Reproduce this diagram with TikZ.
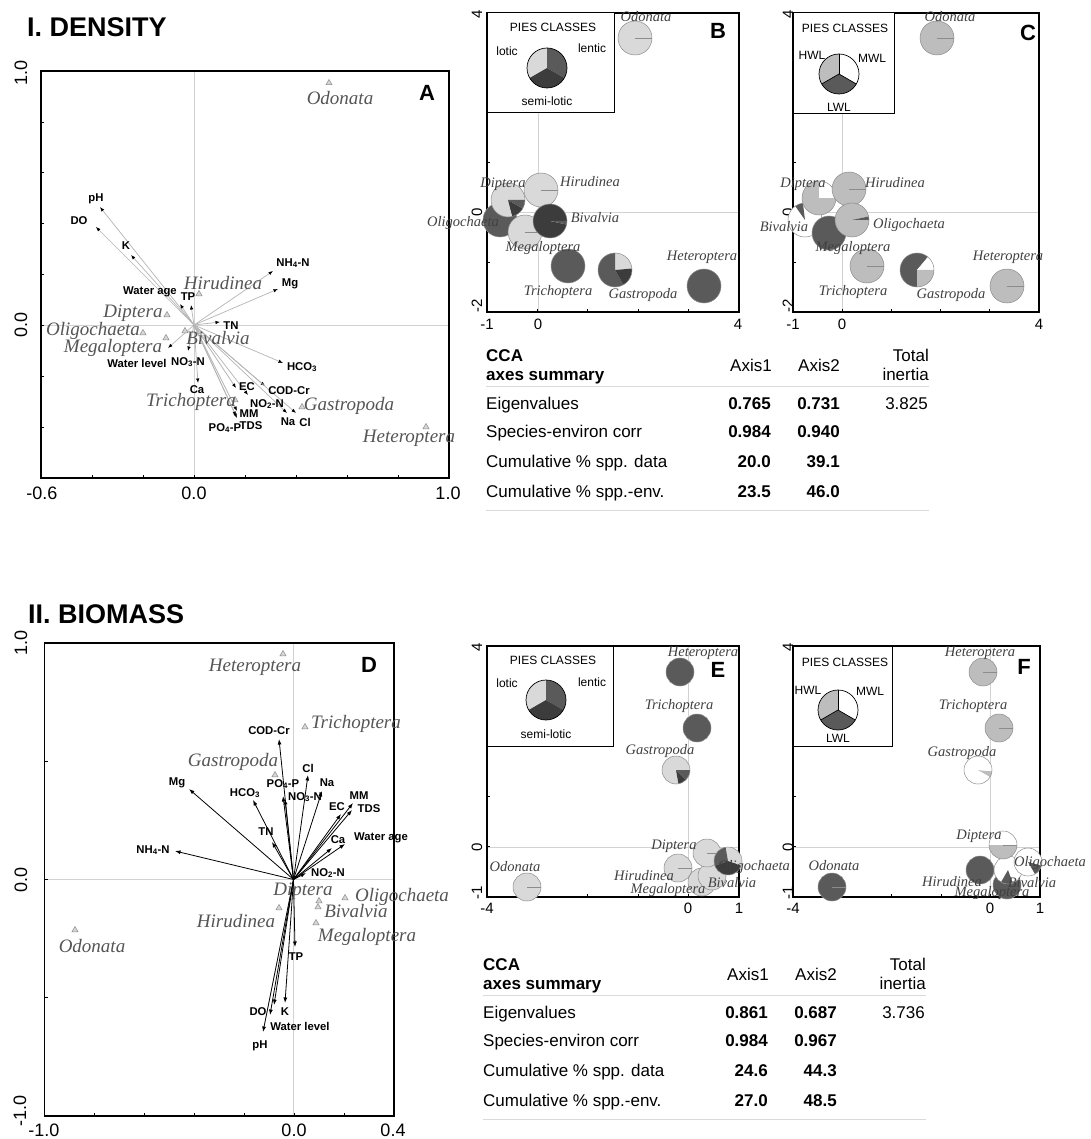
\documentclass[tikz,border=0pt]{standalone}
\usepackage{fontspec}
\setmainfont{Liberation Sans}
\newfontfamily\spfont{Liberation Serif}
\usetikzlibrary{arrows.meta,shapes.geometric}

\definecolor{lotic}{HTML}{D9D9D9}
\definecolor{lentic}{HTML}{5A5A5A}
\definecolor{semilotic}{HTML}{3C3C3C}
\definecolor{hwl}{HTML}{BDBDBD}
\definecolor{mwl}{HTML}{FFFFFF}
\definecolor{lwl}{HTML}{5A5A5A}
\definecolor{rimgray}{HTML}{8C8C8C}
\definecolor{spgray}{HTML}{555555}
\definecolor{spdark}{HTML}{404040}
\definecolor{crossgray}{HTML}{D2D2D2}
\definecolor{arrgray}{HTML}{B4B4B4}
\definecolor{trigray}{HTML}{8A8A8A}
\definecolor{rulegray}{HTML}{DADADA}

\tikzset{
  headtitle/.style={font=\bfseries\fontsize{27}{27}\selectfont, inner sep=0pt, anchor=west},
  panelletter/.style={font=\bfseries\fontsize{22}{22}\selectfont, inner sep=0pt},
  axlab/.style={font=\fontsize{18}{18}\selectfont, inner sep=0pt},
  axlabsm/.style={font=\fontsize{15}{15}\selectfont, inner sep=0pt},
  envlab/.style={font=\bfseries\fontsize{11.3}{12}\selectfont, inner sep=0pt},
  spbig/.style={font=\spfont\itshape\fontsize{19}{20}\selectfont, text=spgray, inner sep=0pt},
  spsmall/.style={font=\spfont\itshape\fontsize{14.5}{15}\selectfont, text=spdark, inner sep=0pt},
  legtext/.style={font=\fontsize{12}{12}\selectfont, inner sep=0pt},
  tabtext/.style={font=\fontsize{17}{18}\selectfont, inner sep=0pt},
  tabbold/.style={font=\bfseries\fontsize{17}{18}\selectfont, inner sep=0pt},
  tabrule/.style={draw=rulegray, line width=1pt},
  tri/.style={regular polygon, regular polygon sides=3, draw=trigray, fill=trigray!35, minimum size=7pt, inner sep=0pt, line width=0.5pt},
  panelframe/.style={draw=black, line width=1.5pt},
  smallframe/.style={draw=black, line width=1.2pt},
  legbox/.style={draw=black, fill=white, line width=1pt},
  crosshair/.style={draw=crossgray, line width=0.8pt},
  minortick/.style={draw=black, line width=0.7pt},
  pierim/.style={draw=rimgray, line width=0.5pt},
  legline/.style={draw=black, line width=0.7pt},
  arrA/.style={draw=arrgray, line width=0.7pt, -{Latex[length=4.5pt,width=3.5pt,color=black]}},
  arrD/.style={draw=black, line width=0.8pt, -{Latex[length=5.5pt,width=4pt]}}
}

% pie pieces: x, y, radius, start, end, colour
\newcommand{\pieslice}[6]{\fill[#6] (#1,#2) -- ++(#4:#3) arc[start angle=#4, end angle=#5, radius=#3] -- cycle;}
\newcommand{\pierim}[3]{\draw[pierim] (#1,#2) circle[radius=#3];}
\newcommand{\piefull}[4]{\fill[#4] (#1,#2) circle[radius=#3]; \draw[pierim] (#1,#2) circle[radius=#3]; \draw[pierim] (#1,#2) -- ++(0:#3);}

% summary table: prefix, eigen1, eigen2, corr1, corr2, data1, data2, env1, env2
\newcommand{\ccatable}[9]{%
  \node[tabbold, anchor=base west] (#1-cca) at (486,361) {CCA};
  \node[tabbold, anchor=base west] (#1-axes) at (486,380) {axes summary};
  \node[tabtext, anchor=base east] (#1-ax1) at (772,371) {Axis1};
  \node[tabtext, anchor=base east] (#1-ax2) at (840,371) {Axis2};
  \node[tabtext, anchor=base east] (#1-tot) at (929,361) {Total};
  \node[tabtext, anchor=base east] (#1-inr) at (929,380) {inertia};
  \coordinate (#1-ra) at (486,386); \coordinate (#1-rb) at (929,386);
  \draw[tabrule] (#1-ra) -- (#1-rb);
  \node[tabtext, anchor=base west] (#1-eig) at (486,409) {Eigenvalues};
  \node[tabbold, anchor=base east] (#1-eig1) at (771,409) {#2};
  \node[tabbold, anchor=base east] (#1-eig2) at (840,409) {#3};
  \node[tabtext, anchor=base west] (#1-cor) at (486,437) {Species-environ corr};
  \node[tabbold, anchor=base east] (#1-cor1) at (771,437) {#4};
  \node[tabbold, anchor=base east] (#1-cor2) at (840,437) {#5};
  \node[tabtext, anchor=base west] (#1-dat) at (486,467) {Cumulative \% spp. data};
  \node[tabbold, anchor=base east] (#1-dat1) at (771,467) {#6};
  \node[tabbold, anchor=base east] (#1-dat2) at (840,467) {#7};
  \node[tabtext, anchor=base west] (#1-env) at (486,497) {Cumulative \% spp.-env.};
  \node[tabbold, anchor=base east] (#1-env1) at (771,497) {#8};
  \node[tabbold, anchor=base east] (#1-env2) at (840,497) {#9};
  \coordinate (#1-sa) at (486,510); \coordinate (#1-sb) at (929,510);
  \draw[tabrule] (#1-sa) -- (#1-sb);
}

\begin{document}
\begin{tikzpicture}[x=1pt,y=-1pt]
\useasboundingbox (0,0) rectangle (1090,1139);
\fill[white] (0,0) rectangle (1090,1139);

%%%%%%%%%%%%%%%%%%%% I. DENSITY
\node[headtitle] (tDens) at (27,27) {I. DENSITY};

% ---- panel A
\draw[crosshair] (194,71) -- (194,478);
\draw[crosshair] (41,325) -- (449,325);
\draw[panelframe] (41,71) rectangle (449,478);
\foreach \k in {1,...,7} {\draw[minortick] (41+51*\k,478) -- ++(0,-3);}
\foreach \k in {1,...,7} {\draw[minortick] (41,71+50.9*\k) -- ++(3,0);}
\node[axlab, rotate=90] (A-y1) at (21,73) {1.0};
\node[axlab, rotate=90] (A-y0) at (21,325) {0.0};
\node[axlab] (A-x0) at (42,493) {-0.6};
\node[axlab] (A-x1) at (194,493) {0.0};
\node[axlab] (A-x2) at (448,493) {1.0};
\node[panelletter] (A-let) at (427,93) {A};

\coordinate (oA) at (194,325);
\foreach \nm/\tx/\ty in {pH/100/207, DO/96/227, K/131/255, NH4/273/271, Mg/278/289,
  Wage/180/304, TP/191/305, TN/220/322, Wlev/168/348, NO3/188/351, HCO3/283/363,
  Ca/198/383, EC/236/388, COD/265/386, NO2/248/395, MM/237/411, Na/287/413,
  Cl/296/413, TDS/237/418, PO4/236/416}
  {\coordinate (A-\nm) at (\tx,\ty); \draw[arrA] (oA) -- (A-\nm);}

\node[envlab] (A-pH-l) at (96,199) {pH};
\node[envlab] (A-DO-l) at (79,221) {DO};
\node[envlab] (A-K-l) at (126,246) {K};
\node[envlab] (A-NH4-l) at (293,263) {NH\textsubscript{4}-N};
\node[envlab] (A-Mg-l) at (290,284) {Mg};
\node[envlab] (A-Wage-l) at (150,292) {Water age};
\node[envlab] (A-TP-l) at (188,297) {TP};
\node[envlab] (A-TN-l) at (231,326) {TN};
\node[envlab] (A-Wlev-l) at (137,363) {Water level};
\node[envlab] (A-NO3-l) at (188,362) {NO\textsubscript{3}-N};
\node[envlab] (A-HCO3-l) at (302,367) {HCO\textsubscript{3}};
\node[envlab] (A-Ca-l) at (197,390) {Ca};
\node[envlab] (A-EC-l) at (247,387) {EC};
\node[envlab] (A-COD-l) at (289,391) {COD-Cr};
\node[envlab] (A-NO2-l) at (267,404) {NO\textsubscript{2}-N};
\node[envlab] (A-MM-l) at (249,414) {MM};
\node[envlab] (A-Na-l) at (288,422) {Na};
\node[envlab] (A-Cl-l) at (305,422) {Cl};
\node[envlab] (A-TDS-l) at (251,426) {TDS};
\node[envlab] (A-PO4-l) at (225,428) {PO\textsubscript{4}-P};

\node[tri] (A-odo) at (329,83) {};
\node[tri] (A-hir) at (199,294) {};
\node[tri] (A-dip) at (167,315) {};
\node[tri] (A-oli) at (143,333) {};
\node[tri] (A-meg) at (166,338) {};
\node[tri] (A-biv) at (185,331) {};
\node[tri] (A-tri) at (235,400) {};
\node[tri] (A-gas) at (302,407) {};
\node[tri] (A-het) at (426,427) {};
\node[spbig] (A-odo-l) at (340,98) {Odonata};
\node[spbig] (A-hir-l) at (223,283) {Hirudinea};
\node[spbig] (A-dip-l) at (133,313) {Diptera};
\node[spbig] (A-oli-l) at (93,331) {Oligochaeta};
\node[spbig] (A-meg-l) at (113,348) {Megaloptera};
\node[spbig] (A-biv-l) at (218,338) {Bivalvia};
\node[spbig] (A-tri-l) at (191,402) {Trichoptera};
\node[spbig] (A-gas-l) at (349,406) {Gastropoda};
\node[spbig] (A-het-l) at (409,438) {Heteroptera};

% ---- panel B
\draw[crosshair] (538,13) -- (538,312);
\draw[crosshair] (487,212) -- (739,212);
\draw[smallframe] (487,13) rectangle (739,312);
\foreach \k in {1,...,4} {\draw[minortick] (487+50.4*\k,312) -- ++(0,-3);}
\foreach \k in {1,...,5} {\draw[minortick] (487,13+49.8*\k) -- ++(3,0);}
\draw[legbox] (487,13) rectangle (614,113);
\node[legtext] (B-pc) at (553,27) {PIES CLASSES};
\node[legtext] (B-lot) at (507,51) {lotic};
\node[legtext] (B-len) at (592,48) {lentic};
\node[legtext] (B-sem) at (547,101) {semi-lotic};
\pieslice{547}{68}{20pt}{90}{210}{lotic}
\pieslice{547}{68}{20pt}{-30}{90}{lentic}
\pieslice{547}{68}{20pt}{210}{330}{semilotic}
\draw[legline] (547,68) circle[radius=20pt];
\node[axlabsm, rotate=90] (B-y4) at (477,14) {4};
\node[axlabsm, rotate=90] (B-y0) at (477,212) {0};
\node[axlabsm, rotate=90] (B-y2) at (477,306) {-2};
\node[axlabsm] (B-x1) at (487,324) {-1};
\node[axlabsm] (B-x0) at (538,324) {0};
\node[axlabsm] (B-x4) at (738,324) {4};
\node[panelletter] (B-let) at (718,31) {B};

\piefull{635}{38}{17pt}{lotic}
\pieslice{500}{220}{17pt}{0}{360}{lentic} \pierim{500}{220}{17pt}
\pieslice{508}{200}{17pt}{0}{285}{lotic}
\pieslice{508}{200}{17pt}{285}{330}{semilotic}
\pieslice{508}{200}{17pt}{330}{360}{lentic} \pierim{508}{200}{17pt}
\piefull{525}{232}{17pt}{lotic}
\piefull{541}{190}{17pt}{lotic}
\pieslice{550}{221}{17pt}{0}{348}{semilotic}
\pieslice{550}{221}{17pt}{348}{360}{lentic} \pierim{550}{221}{17pt}
\pieslice{568}{266}{17pt}{0}{360}{lentic} \pierim{568}{266}{17pt}
\pieslice{615}{270}{17pt}{5}{90}{lotic}
\pieslice{615}{270}{17pt}{90}{300}{lentic}
\pieslice{615}{270}{17pt}{300}{365}{semilotic} \pierim{615}{270}{17pt}
\pieslice{704}{286}{17pt}{0}{360}{lentic} \pierim{704}{286}{17pt}

\node[spsmall] (B-odo-l) at (646,17) {Odonata};
\node[spsmall] (B-hir-l) at (590,182) {Hirudinea};
\node[spsmall] (B-dip-l) at (503,184) {Diptera};
\node[spsmall] (B-oli-l) at (463,223) {Oligochaeta};
\node[spsmall] (B-biv-l) at (595,218) {Bivalvia};
\node[spsmall] (B-meg-l) at (543,248) {Megaloptera};
\node[spsmall] (B-tri-l) at (558,292) {Trichoptera};
\node[spsmall] (B-gas-l) at (643,295) {Gastropoda};
\node[spsmall] (B-het-l) at (702,257) {Heteroptera};

% ---- panel C
\draw[crosshair] (842,13) -- (842,312);
\draw[crosshair] (793,212) -- (1039,212);
\draw[smallframe] (793,13) rectangle (1039,312);
\foreach \k in {1,...,4} {\draw[minortick] (793+49.2*\k,312) -- ++(0,-3);}
\foreach \k in {1,...,5} {\draw[minortick] (793,13+49.8*\k) -- ++(3,0);}
\draw[legbox] (793,13) rectangle (894,114);
\node[legtext] (C-pc) at (845,28) {PIES CLASSES};
\node[legtext] (C-hwl) at (812,55) {HWL};
\node[legtext] (C-mwl) at (872,58) {MWL};
\node[legtext] (C-lwl) at (839,107) {LWL};
\pieslice{839}{74}{20pt}{90}{210}{hwl}
\pieslice{839}{74}{20pt}{-30}{90}{mwl}
\pieslice{839}{74}{20pt}{210}{330}{lwl}
\draw[legline] (839,74) circle[radius=20pt];
\draw[legline] (839,74) -- ++(90:20pt);
\draw[legline] (839,74) -- ++(210:20pt);
\draw[legline] (839,74) -- ++(330:20pt);
\node[axlabsm, rotate=90] (C-y4) at (788,14) {4};
\node[axlabsm, rotate=90] (C-y0) at (788,212) {0};
\node[axlabsm, rotate=90] (C-y2) at (788,306) {-2};
\node[axlabsm] (C-x1) at (793,324) {-1};
\node[axlabsm] (C-x0) at (842,324) {0};
\node[axlabsm] (C-x4) at (1039,324) {4};
\node[panelletter] (C-let) at (1028,33) {C};

\piefull{937}{38}{17pt}{hwl}
\pieslice{805}{220}{17pt}{0}{360}{mwl}
\pieslice{805}{220}{17pt}{97}{125}{lwl} \pierim{805}{220}{17pt}
\pieslice{819}{198}{17pt}{90}{360}{hwl}
\pieslice{819}{198}{17pt}{0}{90}{mwl} \pierim{819}{198}{17pt}
\piefull{849}{189}{17pt}{hwl}
\pieslice{829}{233}{17pt}{0}{360}{lwl} \pierim{829}{233}{17pt}
\pieslice{852}{220}{17pt}{12}{360}{hwl}
\pieslice{852}{220}{17pt}{0}{12}{lwl} \pierim{852}{220}{17pt}
\piefull{867}{266}{17pt}{hwl}
\pieslice{917}{270}{17pt}{50}{270}{lwl}
\pieslice{917}{270}{17pt}{0}{50}{mwl}
\pieslice{917}{270}{17pt}{270}{360}{hwl} \pierim{917}{270}{17pt}
\piefull{1007}{286}{17pt}{hwl}

\node[spsmall] (C-odo-l) at (950,17) {Odonata};
\node[spsmall] (C-hir-l) at (895,183) {Hirudinea};
\node[spsmall] (C-dip-l) at (803,184) {Diptera};
\node[spsmall] (C-biv-l) at (784,227) {Bivalvia};
\node[spsmall] (C-oli-l) at (909,225) {Oligochaeta};
\node[spsmall] (C-meg-l) at (853,248) {Megaloptera};
\node[spsmall] (C-tri-l) at (853,292) {Trichoptera};
\node[spsmall] (C-gas-l) at (951,295) {Gastropoda};
\node[spsmall] (C-het-l) at (1008,257) {Heteroptera};

% ---- table I
\ccatable{T1}{0.765}{0.731}{0.984}{0.940}{20.0}{39.1}{23.5}{46.0}
\node[tabtext, anchor=base east] (T1-total) at (928,409) {3.825};

%%%%%%%%%%%%%%%%%%%% II. BIOMASS
\node[headtitle] (tBiom) at (28,614) {II. BIOMASS};

% ---- panel D
\draw[crosshair] (293.5,643) -- (293.5,1116);
\draw[crosshair] (44.5,879.5) -- (393.8,879.5);
\draw[panelframe] (44.5,643) rectangle (393.8,1116);
\foreach \k in {1,...,6} {\draw[minortick] (44.5+49.9*\k,1116) -- ++(0,-3);}
\foreach \k in {1,...,3} {\draw[minortick] (44.5,643+118.25*\k) -- ++(3,0);}
\node[axlab, rotate=90] (D-y1) at (21,643) {1.0};
\node[axlab, rotate=90] (D-y0) at (21,880) {0.0};
\node[axlab, rotate=90] (D-y2) at (20,1111) {-1.0};
\node[axlab] (D-x0) at (44,1130) {-1.0};
\node[axlab] (D-x1) at (294,1130) {0.0};
\node[axlab] (D-x2) at (393,1130) {0.4};
\node[panelletter] (D-let) at (369,665) {D};

\coordinate (oD) at (293.5,879.5);
\foreach \nm/\tx/\ty in {COD/279/739, Cl/308/775, Na/322/791, PO4/283/796, NO3/285/799,
  Mg/189/789, HCO3/253/800, MM/353/803, EC/341/814, TDS/352/810, TN/272/842,
  NH4/175/851, Ca/332/848, Wage/345/844, NO2/306/873, TP/295/947, DO/274/1005,
  K/285/1003, Wlev/270/1015, pH/263/1032}
  {\coordinate (D-\nm) at (\tx,\ty); \draw[arrD] (oD) -- (D-\nm);}

\node[envlab] (D-COD-l) at (269,731) {COD-Cr};
\node[envlab] (D-Cl-l) at (308,768) {Cl};
\node[envlab] (D-Na-l) at (327,783) {Na};
\node[envlab] (D-PO4-l) at (283,784) {PO\textsubscript{4}-P};
\node[envlab] (D-NO3-l) at (305,797) {NO\textsubscript{3}-N};
\node[envlab] (D-Mg-l) at (177,783) {Mg};
\node[envlab] (D-HCO3-l) at (245,793) {HCO\textsubscript{3}};
\node[envlab] (D-MM-l) at (359,796) {MM};
\node[envlab] (D-EC-l) at (337,807) {EC};
\node[envlab] (D-TDS-l) at (369,809) {TDS};
\node[envlab] (D-TN-l) at (266,832) {TN};
\node[envlab] (D-NH4-l) at (153,850) {NH\textsubscript{4}-N};
\node[envlab] (D-Ca-l) at (338,840) {Ca};
\node[envlab] (D-Wage-l) at (381,838) {Water age};
\node[envlab] (D-NO2-l) at (328,873) {NO\textsubscript{2}-N};
\node[envlab] (D-TP-l) at (296,957) {TP};
\node[envlab] (D-DO-l) at (258,1012) {DO};
\node[envlab] (D-K-l) at (285,1012) {K};
\node[envlab] (D-Wlev-l) at (300,1026) {Water level};
\node[envlab] (D-pH-l) at (260,1046) {pH};

\node[tri] (D-het) at (283,654) {};
\node[tri] (D-tri) at (305,727) {};
\node[tri] (D-gas) at (275,775) {};
\node[tri] (D-oli) at (345,898) {};
\node[tri] (D-dip) at (319,901) {};
\node[tri] (D-biv) at (318,907) {};
\node[tri] (D-hir) at (279,908) {};
\node[tri] (D-meg) at (316,923) {};
\node[tri] (D-odo) at (75,930) {};
\node[spbig] (D-het-l) at (255,667) {Heteroptera};
\node[spbig] (D-tri-l) at (356,724) {Trichoptera};
\node[spbig] (D-gas-l) at (233,762) {Gastropoda};
\node[spbig] (D-dip-l) at (303,891) {Diptera};
\node[spbig] (D-oli-l) at (402,897) {Oligochaeta};
\node[spbig] (D-biv-l) at (356,911) {Bivalvia};
\node[spbig] (D-hir-l) at (236,921) {Hirudinea};
\node[spbig] (D-meg-l) at (367,937) {Megaloptera};
\node[spbig] (D-odo-l) at (92,946) {Odonata};

% ---- panel E
\draw[crosshair] (688,646) -- (688,897);
\draw[crosshair] (487,847) -- (739,847);
\draw[smallframe] (487,646) rectangle (739,897);
\foreach \k in {1,...,4} {\draw[minortick] (487+50.4*\k,897) -- ++(0,-3);}
\foreach \k in {1,...,4} {\draw[minortick] (487,646+50.2*\k) -- ++(3,0);}
\draw[legbox] (487,646) rectangle (613,746);
\node[legtext] (E-pc) at (553,660) {PIES CLASSES};
\node[legtext] (E-lot) at (507,683) {lotic};
\node[legtext] (E-len) at (592,682) {lentic};
\node[legtext] (E-sem) at (546,734) {semi-lotic};
\pieslice{546}{700}{20pt}{90}{210}{lotic}
\pieslice{546}{700}{20pt}{-30}{90}{lentic}
\pieslice{546}{700}{20pt}{210}{330}{semilotic}
\draw[legline] (546,700) circle[radius=20pt];
\node[axlabsm, rotate=90] (E-y4) at (477,647) {4};
\node[axlabsm, rotate=90] (E-y0) at (477,847) {0};
\node[axlabsm, rotate=90] (E-y1) at (477,893) {-1};
\node[axlabsm] (E-x4) at (487,908) {-4};
\node[axlabsm] (E-x0) at (688,908) {0};
\node[axlabsm] (E-x1) at (739,908) {1};
\node[panelletter] (E-let) at (718,670) {E};

\piefull{527}{887}{14pt}{lotic}
\pieslice{680}{672}{14pt}{0}{360}{lentic} \pierim{680}{672}{14pt}
\pieslice{697}{728}{14pt}{0}{360}{lentic} \pierim{697}{728}{14pt}
\pieslice{676}{770}{14pt}{0}{280}{lotic}
\pieslice{676}{770}{14pt}{280}{315}{semilotic}
\pieslice{676}{770}{14pt}{315}{360}{lentic} \pierim{676}{770}{14pt}
\pieslice{702}{882}{14pt}{0}{360}{lotic} \pierim{702}{882}{14pt}
\pieslice{712}{876}{14pt}{0}{360}{lotic} \pierim{712}{876}{14pt}
\piefull{678}{868}{14pt}{lotic}
\piefull{707}{853}{14pt}{lotic}
\pieslice{728}{861}{14pt}{-20}{100}{lotic}
\pieslice{728}{861}{14pt}{100}{200}{lentic}
\pieslice{728}{861}{14pt}{200}{340}{semilotic} \pierim{728}{861}{14pt}

\node[spsmall] (E-het-l) at (703,653) {Heteroptera};
\node[spsmall] (E-tri-l) at (679,706) {Trichoptera};
\node[spsmall] (E-gas-l) at (660,751) {Gastropoda};
\node[spsmall] (E-dip-l) at (674,846) {Diptera};
\node[spsmall] (E-oli-l) at (754,867) {Oligochaeta};
\node[spsmall] (E-hir-l) at (644,876) {Hirudinea};
\node[spsmall] (E-biv-l) at (732,883) {Bivalvia};
\node[spsmall] (E-meg-l) at (668,890) {Megaloptera};
\node[spsmall] (E-odo-l) at (515,867) {Odonata};

% ---- panel F
\draw[crosshair] (990,646) -- (990,897);
\draw[crosshair] (793,847) -- (1040,847);
\draw[smallframe] (793,646) rectangle (1040,897);
\foreach \k in {1,...,4} {\draw[minortick] (793+49.4*\k,897) -- ++(0,-3);}
\foreach \k in {1,...,4} {\draw[minortick] (793,646+50.2*\k) -- ++(3,0);}
\draw[legbox] (793,646) rectangle (892,746);
\node[legtext] (F-pc) at (845,662) {PIES CLASSES};
\node[legtext] (F-hwl) at (808,690) {HWL};
\node[legtext] (F-mwl) at (870,691) {MWL};
\node[legtext] (F-lwl) at (838,738) {LWL};
\pieslice{838}{710}{20pt}{90}{210}{hwl}
\pieslice{838}{710}{20pt}{-30}{90}{mwl}
\pieslice{838}{710}{20pt}{210}{330}{lwl}
\draw[legline] (838,710) circle[radius=20pt];
\draw[legline] (838,710) -- ++(90:20pt);
\draw[legline] (838,710) -- ++(210:20pt);
\draw[legline] (838,710) -- ++(330:20pt);
\node[axlabsm, rotate=90] (F-y4) at (788,647) {4};
\node[axlabsm, rotate=90] (F-y0) at (788,847) {0};
\node[axlabsm, rotate=90] (F-y1) at (788,893) {-1};
\node[axlabsm] (F-x4) at (793,908) {-4};
\node[axlabsm] (F-x0) at (990,908) {0};
\node[axlabsm] (F-x1) at (1040,908) {1};
\node[panelletter] (F-let) at (1024,667) {F};

\piefull{832}{887}{14pt}{lwl}
\piefull{983}{672}{14pt}{hwl}
\piefull{999}{728}{14pt}{hwl}
\pieslice{978}{770}{14pt}{0}{330}{mwl}
\pieslice{978}{770}{14pt}{330}{355}{hwl}
\pieslice{978}{770}{14pt}{355}{360}{mwl} \pierim{978}{770}{14pt}
\pieslice{1007}{885}{14pt}{0}{360}{lwl} \pierim{1007}{885}{14pt}
\pieslice{980}{870}{14pt}{0}{360}{lwl} \pierim{980}{870}{14pt}
\pieslice{1008}{870}{14pt}{0}{360}{mwl}
\pieslice{1008}{870}{14pt}{240}{290}{lwl} \pierim{1008}{870}{14pt}
\pieslice{1003}{845}{14pt}{0}{180}{mwl}
\pieslice{1003}{845}{14pt}{180}{360}{hwl} \pierim{1003}{845}{14pt}
\draw[pierim] (1003,845) -- ++(0:14pt);
\pieslice{1028}{862}{14pt}{0}{360}{mwl}
\pieslice{1028}{862}{14pt}{300}{345}{lwl} \pierim{1028}{862}{14pt}

\node[spsmall] (F-het-l) at (980,653) {Heteroptera};
\node[spsmall] (F-tri-l) at (973,706) {Trichoptera};
\node[spsmall] (F-gas-l) at (962,753) {Gastropoda};
\node[spsmall] (F-dip-l) at (979,836) {Diptera};
\node[spsmall] (F-oli-l) at (1050,863) {Oligochaeta};
\node[spsmall] (F-hir-l) at (952,882) {Hirudinea};
\node[spsmall] (F-biv-l) at (1032,883) {Bivalvia};
\node[spsmall] (F-meg-l) at (992,893) {Megaloptera};
\node[spsmall] (F-odo-l) at (834,866) {Odonata};

% ---- table II
\begin{scope}[shift={(-3,609)}]
\ccatable{T2}{0.861}{0.687}{0.984}{0.967}{24.6}{44.3}{27.0}{48.5}
\node[tabtext, anchor=base east] (T2-total) at (928,409) {3.736};
\end{scope}
\end{tikzpicture}
\end{document}
